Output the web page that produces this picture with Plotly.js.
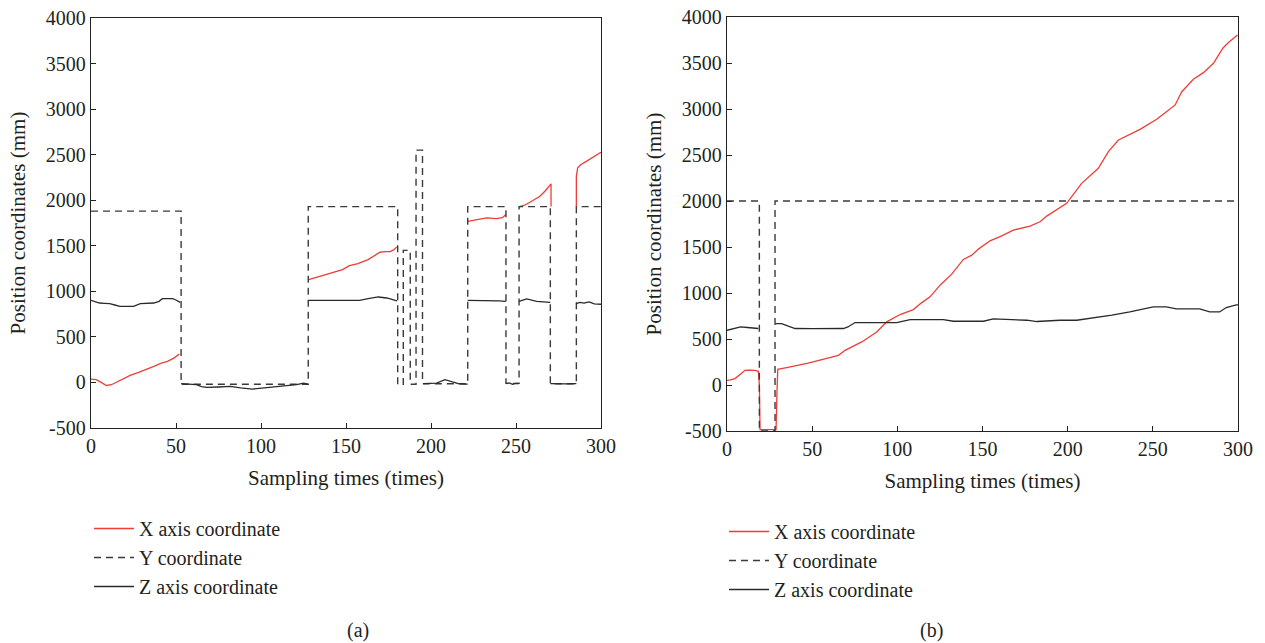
<!DOCTYPE html>
<html>
<head>
<meta charset="utf-8">
<script src="https://cdn.plot.ly/plotly-3.0.1.min.js"></script>
<style>html,body{margin:0;padding:0;background:#fff;}#chart{width:1265px;height:643px;}</style>
</head>
<body>
<div id="chart"></div>
<script>
// ---------- Panel (a) ----------
const aXx = [0,3,6,9,12,16,19,23,28,33,37,41,45,49,52,null,
  128,134,140,145,148,152,157,163,167,170,173,176,178,180,null,
  221.6,226,232.8,238.6,242,244.1,null,
  251.8,255,258.2,261,264.1,267,270.6,270.6,null,
  285.5,285.5,286.3,288,291.6,294,297.5,299,300];
const aXv = [37,30,0,-33,-25,10,37,77,110,145,176,210,231,270,312,null,
  1129,1160,1195,1215,1238,1282,1305,1348,1390,1429,1436,1436,1455,1488,null,
  1769,1785,1806,1799,1808,1843,null,
  1927,1945,1978,2010,2044,2099,2180,1930,null,
  1930,2264,2356,2390,2429,2455,2491,2510,2527];

const aYx = [0,53,53,127.8,127.8,180.4,180.4,183.7,183.7,187.8,187.8,191.2,191.2,195,195,221.6,221.6,244.1,244.1,251.8,251.8,270.2,270.2,285.5,285.5,300];
const aYv = [1880,1880,-20,-20,1930,1930,-20,-20,1450,1450,-20,-20,2550,2550,-15,-15,1930,1930,-10,-10,1930,1930,-15,-15,1930,1930];

const aZx = [0,3,5,8,11,14,17,21,25,29,33,37,40,42,45,48,50,52.4,null,
  53,57,62,65,68,75,82,88,95,102,109,115,121,125,127.8,null,
  128,135,145,158,163,169,174,180,null,
  195.5,199,203.3,208.2,213.1,216,219,221.6,null,
  221.6,228,234.7,240,244,null,
  244.1,246,248,250,251.8,null,
  251.8,256.3,262.2,266,270.2,null,
  270.2,275,280,285.5,null,
  285.5,287.6,290,293,296,300];
const aZv = [901,880,872,868,865,850,835,835,835,865,868,872,890,920,920,920,905,879,null,
  -14,-18,-25,-45,-55,-50,-44,-60,-73,-60,-44,-35,-25,-7,-18,null,
  901,901,901,901,920,938,927,895,null,
  -14,-10,-7,30,0,-12,-18,-18,null,
  901,901,903,895,890,null,
  -14,-5,-20,-10,-14,null,
  890,916,890,885,879,null,
  -14,-18,-16,-14,null,
  865,879,870,885,862,858];

// ---------- Panel (b) ----------
const bXx = [0,2,4.7,8,10.6,13,16.4,18.4,19,19.4,24,28.8,29.3,29.8,35,41.9,47,51.7,58,65.4,69.3,74,79.1,87.9,93.8,101.6,109.4,114,119.2,125.1,131.9,138.8,143.7,147.6,154.4,161.3,168.1,177.9,183.8,187.7,195.5,199.4,208.2,218,223.9,229.8,242.5,252.3,257.2,263.1,267,273.8,279.7,285.6,291.1,294.4,299.7];
const bXv = [51,55,70,120,160,162,160,149,0,-485,-485,-485,-100,171,190,214,235,258,290,323,377,420,468,577,686,766,820,890,958,1085,1205,1365,1411,1477,1567,1621,1683,1727,1774,1836,1930,1974,2192,2355,2536,2663,2779,2888,2960,3044,3188,3323,3395,3497,3660,3722,3805];

const bYx = [0,19,19,28.2,28.2,300];
const bYv = [2000,2000,-500,-500,2000,2000];

const bZx = [0,4,8,12,16,18.4,null,
  28.5,32,36,40,50,60.5,68.3,71,75.2,85,99.6,107.5,127,132.9,150.5,156.4,176,181.9,195.5,205.3,217,226,236.5,244,250.2,258,263.8,277.5,283.4,289.2,293.1,299,300];
const bZv = [595,610,631,625,618,614,null,
  668,668,640,614,612,614,614,631,679,679,679,710,710,693,693,718,704,690,704,704,733,760,794,820,849,849,827,827,794,794,842,870,872];

const names = ["X axis coordinate", "Y coordinate", "Z axis coordinate"];
const xTicks = [0,50,100,150,200,250,300];
const yTicks = [-500,0,500,1000,1500,2000,2500,3000,3500,4000];

const RED = "#ee3d36", DASH = "#3a3a3a", BLACK = "#2a2a2a";
const FONT = "Liberation Serif, Times New Roman, serif";
const TXT = "#231f20";

function traces(xx, xv, yx, yv, zx, zv, xa, ya, leg) {
  return [
    {x: xx, y: xv, xaxis: xa, yaxis: ya, legend: leg, name: names[0], type: "scatter", mode: "lines",
     line: {color: RED, width: 1.3}, connectgaps: false},
    {x: yx, y: yv, xaxis: xa, yaxis: ya, legend: leg, name: names[1], type: "scatter", mode: "lines",
     line: {color: DASH, width: 1.4, dash: "7px,5px"}},
    {x: zx, y: zv, xaxis: xa, yaxis: ya, legend: leg, name: names[2], type: "scatter", mode: "lines",
     line: {color: BLACK, width: 1.3}, connectgaps: false}
  ];
}

const data = [].concat(
  traces(aXx, aXv, aYx, aYv, aZx, aZv, "x", "y", "legend"),
  traces(bXx, bXv, bYx, bYv, bZx, bZv, "x2", "y2", "legend2")
);

function xaxis(dom) {
  return {domain: dom, range: [0, 300], tickvals: xTicks, ticktext: xTicks.map(String),
    ticks: "inside", ticklen: 5, tickwidth: 1, tickcolor: "#222",
    showline: true, linecolor: "#222", linewidth: 1.3, mirror: true,
    showgrid: false, zeroline: false,
    tickfont: {family: FONT, size: 20, color: TXT},
    title: {text: "Sampling times (times)", font: {family: FONT, size: 21, color: TXT}, standoff: 14}};
}
function yaxis(dom, anchor) {
  return {domain: dom, anchor: anchor, range: [-500, 4000], tickvals: yTicks, ticktext: yTicks.map(String),
    ticks: "inside", ticklen: 5, tickwidth: 1, tickcolor: "#222",
    showline: true, linecolor: "#222", linewidth: 1.3, mirror: true,
    showgrid: false, zeroline: false,
    tickfont: {family: FONT, size: 20, color: TXT},
    title: {text: "Position coordinates (mm)", font: {family: FONT, size: 21, color: TXT}, standoff: 14}};
}

const xa = xaxis([91/1265, 601/1265]); xa.anchor = "y";
const xb = xaxis([727/1265, 1238/1265]); xb.anchor = "y2";

const layout = {
  width: 1265, height: 643,
  margin: {l: 0, r: 0, t: 0, b: 0},
  paper_bgcolor: "#fff", plot_bgcolor: "#fff",
  showlegend: true,
  xaxis: xa,
  yaxis: yaxis([1 - 428/643, 1 - 18/643], "x"),
  xaxis2: xb,
  yaxis2: yaxis([1 - 431/643, 1 - 17/643], "x2"),
  legend: {x: 89/1265, y: 1 - 509/643, xanchor: "left", yanchor: "top", bgcolor: "rgba(0,0,0,0)",
    itemwidth: 40, font: {family: FONT, size: 20, color: TXT}, tracegroupgap: 0},
  legend2: {x: 724/1265, y: 1 - 512/643, xanchor: "left", yanchor: "top", bgcolor: "rgba(0,0,0,0)",
    itemwidth: 40, font: {family: FONT, size: 20, color: TXT}, tracegroupgap: 0},
  annotations: [
    {text: "(a)", x: 345/1265, y: 1 - 630/643, xref: "paper", yref: "paper", yanchor: "middle", showarrow: false,
     font: {family: FONT, size: 20, color: TXT}},
    {text: "(b)", x: 945/1265, y: 1 - 630/643, xref: "paper", yref: "paper", yanchor: "middle", showarrow: false,
     font: {family: FONT, size: 20, color: TXT}}
  ]
};

Plotly.newPlot("chart", data, layout, {displayModeBar: false, staticPlot: true});
</script>
</body>
</html>
